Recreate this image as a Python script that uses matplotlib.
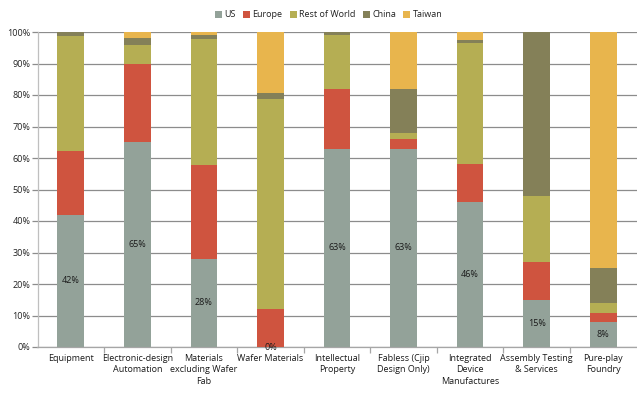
import matplotlib
matplotlib.use("Agg")
import matplotlib.pyplot as plt
import numpy as np
from matplotlib.ticker import PercentFormatter, FixedLocator, NullFormatter

plt.rcParams['font.family'] = ['Open Sans', 'DejaVu Sans']

categories = [
    "Equipment",
    "Electronic-design\nAutomation",
    "Materials\nexcluding Wafer\nFab",
    "Wafer Materials",
    "Intellectual\nProperty",
    "Fabless (Cjip\nDesign Only)",
    "Integrated\nDevice\nManufactures",
    "Assembly Testing\n& Services",
    "Pure-play\nFoundry",
]

us = [42, 65, 28, 0, 63, 63, 46, 15, 8]
europe = [20.3, 25, 29.7, 12, 19, 3, 12, 12, 2.8]
rest_of_world = [36.5, 6, 40.2, 66.7, 17, 2, 38.5, 21, 3.2]
china = [1.2, 2, 1, 2, 1, 14, 1, 52, 11]
taiwan = [0, 2, 1.1, 19.3, 0, 18, 2.5, 0, 75]

series = [
    ("US", us, "#93A299"),
    ("Europe", europe, "#CF543F"),
    ("Rest of World", rest_of_world, "#B5AE53"),
    ("China", china, "#848058"),
    ("Taiwan", taiwan, "#E8B54D"),
]

fig = plt.figure(figsize=(6.37, 3.94), dpi=100)
ax = fig.add_axes([37.5 / 637, 47 / 394, 599 / 637, 315 / 394])

x = np.arange(len(categories))
bottom = np.zeros(len(categories))
for name, vals, color in series:
    vals = np.array(vals, dtype=float)
    ax.bar(x, vals, 0.4, bottom=bottom, color=color, label=name, zorder=3)
    bottom += vals

# value labels for the US share
for xi, v in zip(x, us):
    ax.text(xi, v / 2, f"{v:.0f}%", ha="center", va="center",
            fontsize=6.5, color="#1a1a1a", zorder=4)

ax.set_xlim(-0.5, len(categories) - 0.5)
ax.set_ylim(0, 100)
ax.yaxis.set_major_locator(FixedLocator(np.arange(0, 101, 10)))
ax.yaxis.set_major_formatter(PercentFormatter(decimals=0))
ax.grid(axis="y", color="#8C8C8C", linewidth=0.9, zorder=0)
ax.tick_params(axis="y", length=4, width=0.9, color="#8C8C8C",
               labelsize=6.5, labelcolor="#222222", pad=1)

ax.set_xticks(x)
ax.set_xticklabels(categories, fontsize=6.5, color="#1a1a1a", linespacing=1.35)
ax.tick_params(axis="x", which="major", length=0, pad=5)
ax.xaxis.set_minor_locator(FixedLocator(np.arange(0.5, len(categories) - 0.5, 1)))
ax.xaxis.set_minor_formatter(NullFormatter())
ax.tick_params(axis="x", which="minor", length=4, width=0.9, color="#A6A6A6")

for side in ("top", "right"):
    ax.spines[side].set_visible(False)
ax.spines["left"].set_color("#BFBFBF")
ax.spines["bottom"].set_color("#A6A6A6")
ax.spines["left"].set_linewidth(0.9)
ax.spines["bottom"].set_linewidth(0.9)

ax.legend(loc="upper center", bbox_to_anchor=(0.486, 1.095), ncol=5,
          frameon=False, fontsize=6.5, handlelength=0.8, handleheight=0.8,
          handletextpad=0.25, columnspacing=0.8, labelcolor="#222222")

fig.savefig("out.png", dpi=100)
